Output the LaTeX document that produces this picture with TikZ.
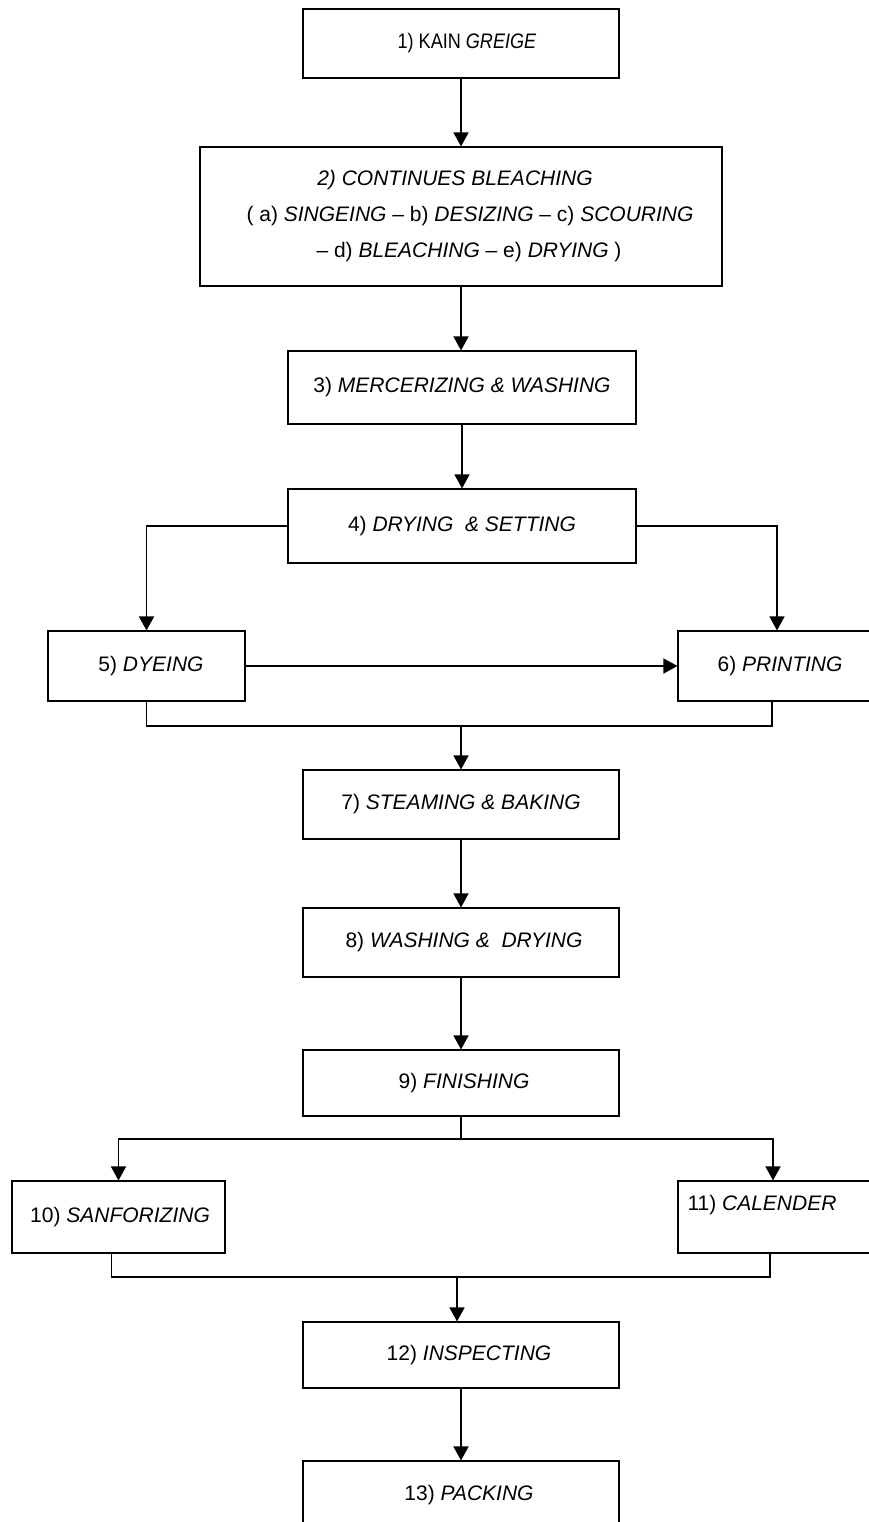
\documentclass[tikz,border=0pt]{standalone}
\usepackage{graphicx}
\usepackage{fontspec}
\setmainfont{Liberation Sans}
\usetikzlibrary{arrows.meta,calc}

\tikzset{
  x=1pt, y=-1pt,
  stepbox/.style={draw=black, line width=1.1pt, fill=white, inner sep=0pt,
    font=\fontsize{21}{36}\selectfont, align=center},
  wide/.style={minimum width=316pt, minimum height=69pt},
  side/.style={minimum width=198pt, minimum height=70pt},
  txt/.style={inner sep=0pt, font=\fontsize{21}{36}\selectfont},
  flow/.style={line width=1.5pt, -{Triangle[width=15pt,length=14pt]}},
  link/.style={line width=1.5pt}
}

\begin{document}
\begin{tikzpicture}
\useasboundingbox (0,0) rectangle (869,1522);

% process steps
\node[stepbox, wide] (b1) at (461,43.5)
  {\hspace*{12pt}\scalebox{0.86}[1]{1) KAIN \textit{GREIGE}}};
\node[stepbox, minimum width=522pt, minimum height=139pt] (b2) at (461,216.5)
  {\hspace*{-12pt}\textit{2) CONTINUES BLEACHING}\\
   \hspace*{18pt}( a) \textit{SINGEING} -- b) \textit{DESIZING} -- c) \textit{SCOURING}\\
   \hspace*{16pt}-- d) \textit{BLEACHING} -- e) \textit{DRYING} )};
\node[stepbox, minimum width=348pt, minimum height=73pt] (b3) at (462,387.5)
  {3) \textit{MERCERIZING \& WASHING}};
\node[stepbox, minimum width=348pt, minimum height=74pt] (b4) at (462,526)
  {4) \textit{DRYING\ \ \& SETTING}};
\node[stepbox, minimum width=197pt, minimum height=70pt] (b5) at (146.5,666)
  {\hspace*{9pt}5) \textit{DYEING}};
\node[stepbox, side] (b6) at (777,666) {\hspace*{6pt}6) \textit{PRINTING}};
\node[stepbox, wide] (b7) at (461,804.5) {7) \textit{STEAMING \& BAKING}};
\node[stepbox, wide] (b8) at (461,942.5) {\hspace*{6pt}8) \textit{WASHING \&\ \ DRYING}};
\node[stepbox, minimum width=316pt, minimum height=66pt] (b9) at (461,1083)
  {\hspace*{6pt}9) \textit{FINISHING}};
\node[stepbox, minimum width=213pt, minimum height=72pt] (b10) at (118.5,1217)
  {\hspace*{3pt}10) \textit{SANFORIZING}};
\node[stepbox, minimum width=198pt, minimum height=72pt] (b11) at (777,1217) {};
\node[txt] (t11) at (762,1205) {11) \textit{CALENDER}};
\node[stepbox, minimum width=316pt, minimum height=66pt] (b12) at (461,1355)
  {\hspace*{16pt}12) \textit{INSPECTING}};
\node[stepbox, wide] (b13) at (461,1495.5) {\hspace*{16pt}13) \textit{PACKING}};

% junction points
\coordinate (m1) at (461,726);
\coordinate (s2) at (461,1139);
\coordinate (m3) at (457,1277);

% connectors
\draw[flow] (b1) -- (b2);
\draw[flow] (b2.south) -- (b2.south |- b3.north);
\draw[flow] (b3.south) -- (b3.south |- b4.north);
\draw[flow] (b4.west) -| (b5.north);
\draw[flow] (b4.east) -| (b6.north);
\draw[flow] (b5.east) -- (b6.west);
\draw[link] (b5.south) |- (m1) -| ([xshift=-5pt]b6.south);
\draw[flow] (m1) -- (b7.north);
\draw[flow] (b7) -- (b8);
\draw[flow] (b8) -- (b9);
\draw[link] (b9.south) -- (s2);
\draw[flow] (s2) -| (b10.north);
\draw[flow] (s2) -| ([xshift=-4pt]b11.north);
\draw[link] ([xshift=-7pt]b10.south) |- (m3) -| ([xshift=-7pt]b11.south);
\draw[flow] (m3) -- (m3 |- b12.north);
\draw[flow] (b12) -- (b13);
\end{tikzpicture}
\end{document}
